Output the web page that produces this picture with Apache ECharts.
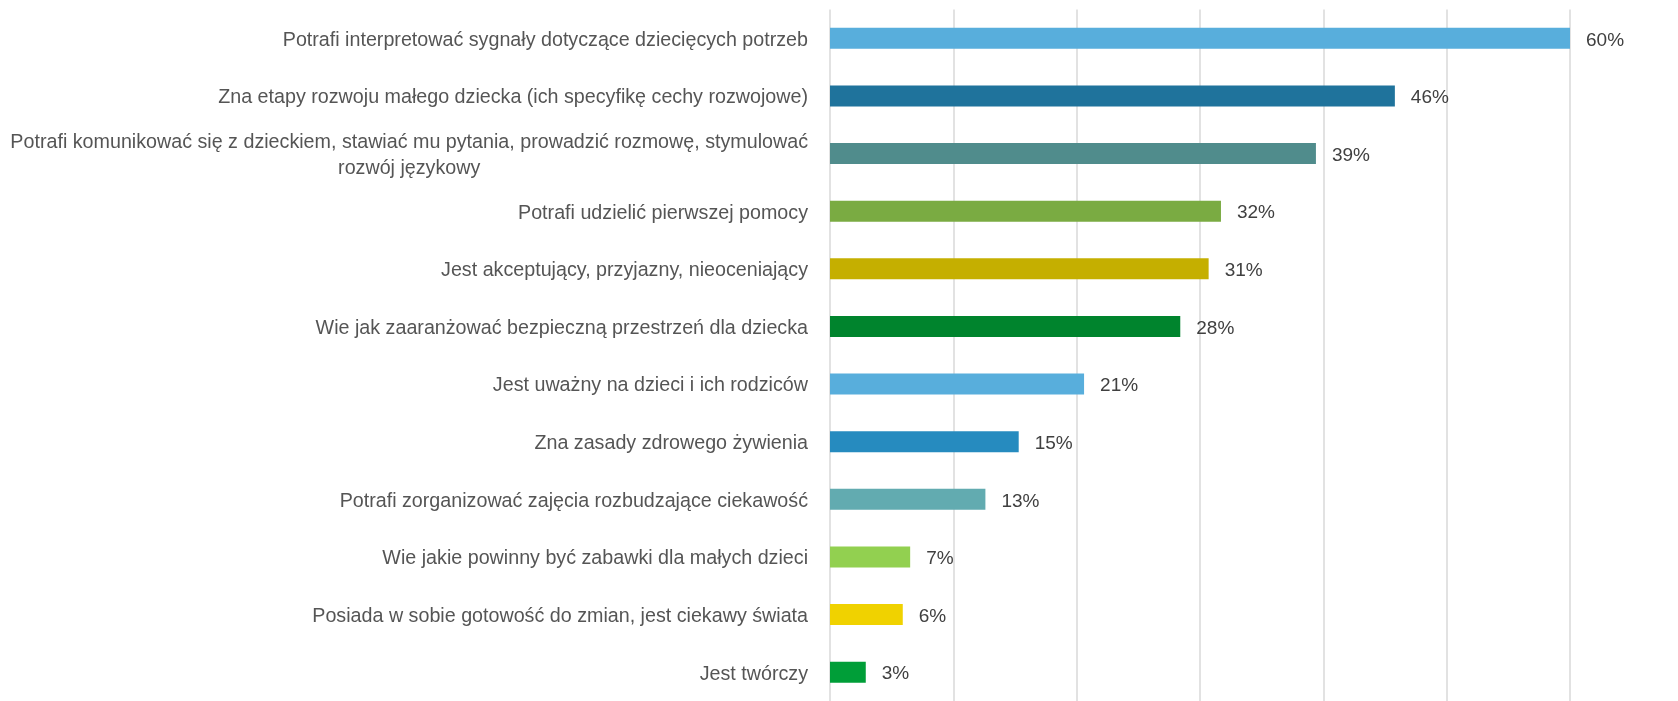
<!DOCTYPE html>
<html>
<head>
<meta charset="utf-8">
<script src="https://cdn.jsdelivr.net/npm/echarts@6/dist/echarts.min.js"></script>
<style>html,body{margin:0;padding:0;background:#fff}#c{width:1678px;height:701px}</style>
</head>
<body>
<div id="c"></div>
<script>
const categories = [
  'Potrafi interpretować sygnały dotyczące dziecięcych potrzeb',
  'Zna etapy rozwoju małego dziecka (ich specyfikę cechy rozwojowe)',
  'Potrafi komunikować się z dzieckiem, stawiać mu pytania, prowadzić rozmowę, stymulować\nrozwój językowy',
  'Potrafi udzielić pierwszej pomocy',
  'Jest akceptujący, przyjazny, nieoceniający',
  'Wie jak zaaranżować bezpieczną przestrzeń dla dziecka',
  'Jest uważny na dzieci i ich rodziców',
  'Zna zasady zdrowego żywienia',
  'Potrafi zorganizować zajęcia rozbudzające ciekawość',
  'Wie jakie powinny być zabawki dla małych dzieci',
  'Posiada w sobie gotowość do zmian, jest ciekawy świata',
  'Jest twórczy'
];
const values = [60, 45.8, 39.4, 31.7, 30.7, 28.4, 20.6, 15.3, 12.6, 6.5, 5.9, 2.9];
const valueLabels = ['60%', '46%', '39%', '32%', '31%', '28%', '21%', '15%', '13%', '7%', '6%', '3%'];
const colors = ['#58AEDC', '#1F739C', '#508C8C', '#7AAB42', '#C5AF00', '#00842D',
                '#58AEDC', '#268BBF', '#62ABB0', '#92D050', '#F0D200', '#009E38'];
const xTicks = [0, 10, 20, 30, 40, 50, 60];

const chart = echarts.init(document.getElementById('c'), null, {renderer: 'canvas'});
chart.setOption({
  animation: false,
  backgroundColor: '#ffffff',
  grid: {left: 830, width: 740, top: 9.5, height: 696, containLabel: false},
  xAxis: {
    type: 'value',
    min: xTicks[0],
    max: xTicks[xTicks.length - 1],
    interval: 10,
    axisLabel: {show: false},
    axisLine: {show: false},
    axisTick: {show: false},
    splitLine: {show: true, lineStyle: {color: '#D9D9D9', width: 1.5}}
  },
  yAxis: {
    type: 'category',
    inverse: true,
    data: categories,
    axisLine: {show: false},
    axisTick: {show: false},
    axisLabel: {
      margin: 22,
      fontFamily: 'Liberation Sans',
      fontSize: 19.7,
      color: '#555555',
      lineHeight: 26,
      padding: [4, 0, 0, 0],
      formatter: function (v) {
        const parts = v.split('\n');
        if (parts.length === 1) return v;
        return parts.map(p => '{c|' + p + '}').join('\n');
      },
      rich: {
        c: {align: 'center', fontFamily: 'Liberation Sans', fontSize: 19.7, color: '#555555', lineHeight: 26}
      }
    }
  },
  series: [{
    type: 'bar',
    data: values.map((v, i) => ({value: v, itemStyle: {color: colors[i]}})),
    barWidth: 21,
    label: {
      show: true,
      position: 'right',
      distance: 16,
      offset: [0, 2],
      fontFamily: 'Liberation Sans',
      fontSize: 19,
      color: '#404040',
      formatter: p => valueLabels[p.dataIndex]
    }
  }]
});
</script>
</body>
</html>
